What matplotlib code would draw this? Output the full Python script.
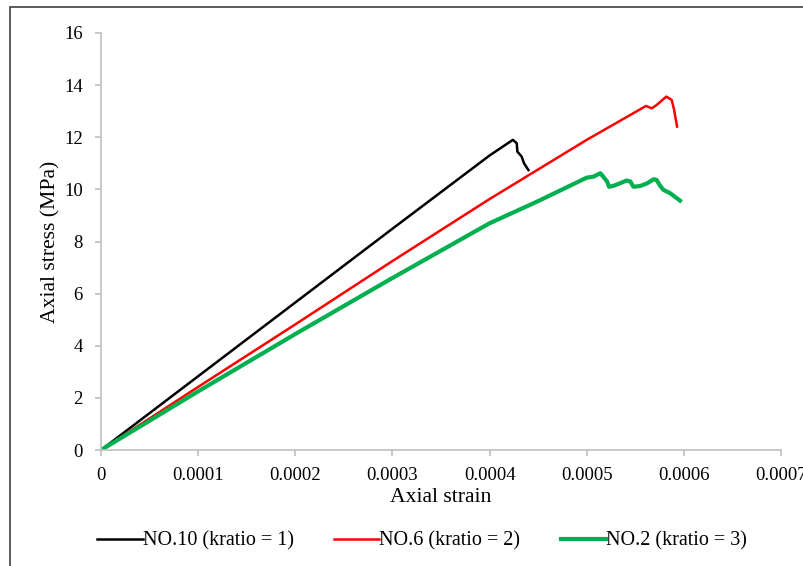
import matplotlib
matplotlib.use("Agg")
from matplotlib import pyplot as plt
from matplotlib.patches import Rectangle

# stress-strain records for the three specimens
strain_no10 = [0, 0.0001, 0.0002, 0.0003, 0.0004, 0.000424, 0.000428,
               0.0004286, 0.000433, 0.0004355, 0.00044]
stress_no10 = [0, 2.83, 5.66, 8.49, 11.3, 11.9, 11.77, 11.45, 11.26, 11.0,
               10.74]

strain_no6 = [0, 0.0001, 0.0002, 0.0003, 0.0004, 0.0005, 0.000561, 0.000567,
              0.000572, 0.000582, 0.0005875, 0.00059, 0.000593]
stress_no6 = [0, 2.42, 4.82, 7.25, 9.63, 11.9, 13.2, 13.11, 13.24, 13.56,
              13.43, 13.05, 12.41]

strain_no2 = [0, 0.0001, 0.0002, 0.0003, 0.0004, 0.00045, 0.0005, 0.000507,
              0.000514, 0.000517, 0.000521, 0.000523, 0.000527, 0.000534,
              0.000541, 0.000545, 0.000548, 0.000555, 0.000562, 0.000569,
              0.000572, 0.000575, 0.000579, 0.000586, 0.000596]
stress_no2 = [0, 2.25, 4.45, 6.6, 8.7, 9.55, 10.45, 10.49, 10.62, 10.49,
              10.3, 10.1, 10.13, 10.23, 10.34, 10.3, 10.1, 10.13, 10.23,
              10.39, 10.36, 10.17, 9.98, 9.85, 9.57]

x_ticks = [0, 0.0001, 0.0002, 0.0003, 0.0004, 0.0005, 0.0006, 0.0007]
x_labels = ["0", "0.0001", "0.0002", "0.0003", "0.0004", "0.0005",
            "0.0006", "0.0007"]
y_ticks = [0, 2, 4, 6, 8, 10, 12, 14, 16]


def main():
    plt.rcParams["font.family"] = ["Liberation Serif", "DejaVu Serif"]
    fig = plt.figure(figsize=(8.04, 5.66), dpi=100)
    ax = fig.add_axes([0.1256, 0.2049, 0.8458, 0.7368])

    ax.plot(strain_no10, stress_no10, color="black", lw=1.8,
            label="NO.10 (kratio = 1)")
    ax.plot(strain_no6, stress_no6, color="#FF0000", lw=1.8,
            label="NO.6 (kratio = 2)")
    ax.plot(strain_no2, stress_no2, color="#00B050", lw=3.0,
            label="NO.2 (kratio = 3)")

    ax.set_xlim(0, 0.0007)
    ax.set_ylim(0, 16)
    ax.set_xticks(x_ticks, x_labels)
    ax.set_yticks(y_ticks)
    ax.tick_params(labelsize=13.5, colors="#BFBFBF", labelcolor="black",
                   length=4, width=1.2, direction="out")
    ax.tick_params(axis="x", pad=8)
    ax.tick_params(axis="y", pad=9)
    for side in ["top", "right"]:
        ax.spines[side].set_visible(False)
    for side in ["left", "bottom"]:
        ax.spines[side].set_color("#BFBFBF")
        ax.spines[side].set_linewidth(1.2)

    ax.set_xlabel("Axial strain", fontsize=15.6, labelpad=3)
    ax.set_ylabel("Axial stress (MPa)", fontsize=15.6, labelpad=3)

    fig.legend(loc="center", bbox_to_anchor=(0.525, 0.044), ncol=3,
               frameon=False, fontsize=14.5, handlelength=2.25,
               columnspacing=2.0, handletextpad=0.0)

    # outer frame
    fig.patches.append(Rectangle((10 / 804, -0.2), 1.2, 1.2 - 7 / 566,
                                 transform=fig.transFigure, fill=False,
                                 edgecolor="#404040", lw=1.2))
    fig.savefig("out.png", dpi=100)


if __name__ == "__main__":
    main()
